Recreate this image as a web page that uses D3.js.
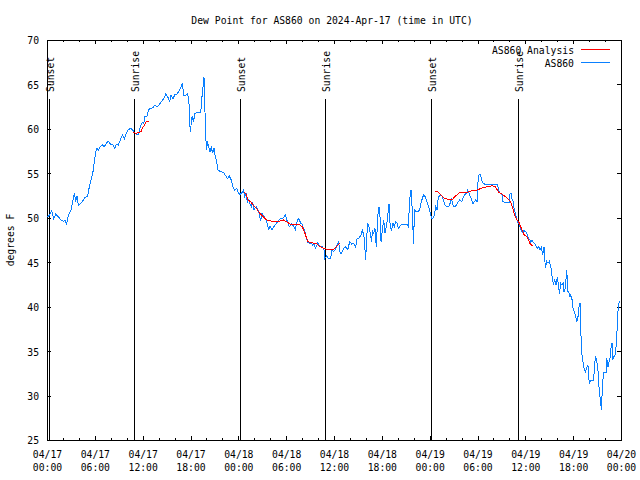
<!DOCTYPE html>
<html><head><meta charset="utf-8">
<script src="https://cdn.jsdelivr.net/npm/d3@7"></script>
<style>
body{margin:0;background:#fff}
text{font-family:"DejaVu Sans Mono",monospace;font-size:11px;fill:#000}
</style>
</head><body>
<svg id="c" width="640" height="480"></svg>
<script>
// ---- DATA (hours after 2024-04-17 00:00 UTC, dew point in F) ----
const obsHours = [0.08,0.33,0.59,0.84,1.09,1.42,1.76,2.05,2.26,2.47,2.68,3.01,3.18,3.43,3.60,3.76,3.93,4.18,4.43,4.77,5.10,5.27,5.52,5.77,5.94,6.10,6.27,6.44,6.69,6.94,7.19,7.44,7.69,7.94,8.28,8.53,8.70,8.95,9.20,9.45,9.70,9.95,10.20,10.45,10.70,10.95,11.21,11.46,11.71,11.96,12.13,12.29,12.54,12.71,12.96,13.30,13.55,13.80,14.05,14.38,14.63,14.89,15.14,15.39,15.55,15.81,16.06,16.31,16.56,16.81,16.98,17.14,17.31,17.65,17.81,17.90,17.98,18.19,18.36,18.57,18.77,19.28,19.44,19.61,19.69,19.78,19.86,20.03,20.11,20.28,20.45,20.61,20.78,20.95,21.11,21.28,21.45,21.70,22.12,22.37,22.62,22.87,23.12,23.29,23.54,23.79,24.04,24.21,24.42,24.63,24.80,24.96,25.13,25.30,25.46,25.63,25.80,25.97,26.22,26.47,26.64,26.80,26.97,27.22,27.47,27.64,27.81,27.97,28.22,28.47,28.72,28.98,29.23,29.48,29.73,29.90,30.06,30.23,30.40,30.65,30.90,31.15,31.32,31.49,31.65,31.82,31.99,32.15,32.32,32.49,32.66,32.91,33.16,33.33,33.49,33.66,33.83,33.99,34.16,34.33,34.58,34.75,34.83,35.08,35.33,35.58,35.75,35.92,36.17,36.34,36.59,36.71,36.88,37.13,37.38,37.55,37.72,37.97,38.22,38.47,38.72,38.89,39.14,39.39,39.55,39.72,39.81,39.97,40.06,40.22,40.39,40.56,40.73,40.81,40.98,41.14,41.23,41.31,41.48,41.65,41.81,41.90,42.06,42.23,42.40,42.57,42.73,42.90,42.98,43.07,43.23,43.40,43.57,43.74,43.90,44.07,44.32,44.57,44.91,45.16,45.33,45.49,45.66,45.83,45.91,45.99,46.08,46.25,46.50,46.75,46.91,47.08,47.25,47.42,47.58,47.75,47.92,48.08,48.25,48.42,48.59,48.75,48.92,49.09,49.26,49.42,49.59,49.76,49.93,50.18,50.43,50.59,50.76,50.84,51.01,51.26,51.51,51.76,52.02,52.27,52.43,52.60,52.77,52.94,53.10,53.27,53.44,53.60,53.77,53.94,54.02,54.19,54.36,54.52,54.69,54.86,55.57,56.49,56.66,56.83,57.08,57.16,57.58,58.00,58.08,58.25,58.33,58.50,58.58,58.75,58.92,59.00,59.17,59.33,59.50,59.67,59.84,60.09,60.25,60.42,60.59,60.67,60.84,61.01,61.17,61.34,61.51,61.68,61.84,62.01,62.18,62.34,62.51,62.68,62.85,63.01,63.18,63.35,63.52,63.68,63.85,64.02,64.18,64.27,64.44,64.60,64.77,64.85,65.02,65.19,65.35,65.52,65.60,65.69,65.86,65.94,66.02,66.19,66.36,66.44,66.61,66.69,66.86,66.94,67.03,67.11,67.19,67.36,67.53,67.70,67.86,67.95,68.03,68.20,68.53,68.62,68.70,68.78,68.95,69.12,69.20,69.29,69.45,69.54,69.70,69.87,70.12,70.20,70.37,70.45,70.62,70.70,70.87,70.96,71.12,71.29,71.38,71.54,71.63,71.71,71.88];
const obsDewF = [50.1,50.3,50.8,49.9,50.4,50.1,49.75,49.6,49.7,49.3,50.3,50.9,51.6,52.8,51.8,52.45,51.4,51.6,51.8,52.3,52.45,53.3,54.25,55.2,56.3,57.4,57.8,57.6,58.0,58.2,58.0,58.4,58.6,58.3,58.2,57.8,58.3,58.2,58.75,59.3,58.9,59.5,59.9,60.05,59.95,59.6,59.4,59.4,60.25,60.7,60.6,61.4,61.4,62.1,62.3,62.4,62.7,62.5,62.7,63.1,63.4,63.9,63.6,63.1,63.8,63.4,63.9,63.9,64.3,64.7,65.2,63.8,63.7,64.0,62.9,60.8,59.7,61.4,60.8,61.75,61.8,61.8,63.6,65.1,65.8,64.0,59.7,57.6,58.6,58.0,57.4,57.9,57.25,57.8,56.9,56.3,55.4,55.2,55.1,54.8,54.4,54.7,54.25,53.5,53.1,53.3,52.75,52.6,52.8,53.1,52.4,52.75,51.7,52.0,51.6,51.25,51.8,50.9,51.25,50.9,50.4,49.6,50.5,50.2,49.75,49.3,48.6,49.1,48.6,49.0,49.3,49.6,49.9,49.9,50.1,50.3,49.8,49.4,49.0,49.3,49.1,48.7,49.4,49.9,49.75,49.4,49.3,48.8,48.6,47.9,47.3,47.1,47.2,46.9,47.1,46.6,46.9,47.2,46.9,46.8,46.7,46.4,45.4,45.7,45.4,45.4,46.4,46.2,46.4,46.8,47.3,46.2,45.9,46.4,46.75,46.6,46.4,47.3,47.05,47.1,46.7,47.6,47.7,48.1,48.6,48.1,47.5,45.25,47.1,49.4,49.0,48.25,47.3,48.6,48.25,48.8,47.5,46.75,50.1,51.25,49.75,47.3,48.6,49.75,48.25,49.0,50.1,51.6,50.1,48.8,48.6,49.4,49.0,49.55,49.4,48.8,49.1,49.3,49.3,49.3,49.0,52.1,53.1,50.7,48.6,47.05,50.9,50.7,50.7,50.9,51.6,52.2,52.6,52.4,52.0,51.6,51.1,50.5,49.9,50.0,50.3,51.25,50.9,52.4,52.45,52.6,52.4,51.9,51.4,51.25,51.3,51.7,52.2,51.6,51.25,51.3,51.7,52.0,51.8,52.4,52.6,52.75,53.1,52.75,52.4,52.0,51.6,51.8,52.0,51.8,53.7,54.8,54.9,54.25,53.9,53.8,53.8,53.8,53.1,52.75,52.6,51.8,51.7,51.7,52.75,52.7,52.1,51.8,51.1,50.5,49.9,49.55,49.4,49.0,48.55,48.4,48.55,48.4,48.1,47.6,47.5,47.3,47.5,47.2,47.1,46.8,46.6,46.75,46.4,46.7,45.8,46.7,44.4,45.1,44.9,45.1,44.6,43.4,42.6,43.0,42.4,43.3,42.3,41.4,42.6,42.4,42.8,41.7,42.1,44.1,41.7,41.5,41.1,41.3,40.8,40.2,39.6,39.4,38.7,38.3,38.9,39.8,40.45,37.4,35.9,34.6,34.0,33.1,32.7,33.1,33.4,32.1,31.4,31.75,31.75,32.5,33.25,34.4,34.0,32.7,31.6,30.25,29.3,28.4,31.6,32.6,32.6,34.2,33.25,33.6,34.2,35.1,35.9,34.0,34.4,34.6,35.5,37.9,39.6,40.4,40.6];
// analysis segments separated by null
const anaHours = [10.79,11.12,11.54,11.79,11.96,12.21,12.46,12.79,null,
  24.71,24.96,25.21,25.55,25.88,26.22,26.55,26.80,27.14,27.47,27.81,28.31,29.06,29.65,30.06,30.48,30.90,31.74,31.99,32.24,32.49,32.74,33.24,33.83,34.24,34.66,35.08,35.92,36.17,36.42,36.71,null,
  48.67,49.09,49.38,49.80,50.22,50.80,51.18,51.72,52.31,52.85,53.48,53.90,54.40,55.16,55.91,56.24,56.62,57.03,57.45,57.87,58.16,58.41,58.66,58.92,59.25,59.54,59.84,60.17,60.59,60.92];
const anaDewF = [59.6,59.5,59.6,59.7,60.1,60.4,60.8,60.9,null,
  52.9,52.7,52.0,51.8,51.4,51.1,50.7,50.4,50.1,49.8,49.7,49.6,49.6,49.75,49.55,49.3,49.2,49.2,49.0,48.55,47.9,47.3,47.2,47.05,46.75,46.6,46.45,46.45,46.6,46.9,47.1,null,
  53.0,52.9,52.6,52.2,52.1,52.0,52.4,52.8,52.9,52.9,53.1,53.1,53.3,53.5,53.6,53.5,52.9,52.7,52.4,52.1,51.8,51.1,50.3,49.8,49.4,48.7,48.1,47.9,47.1,46.8];
const sunHours = [0.21,10.95,24.21,34.91,48.21,59.04];
const sunLabels = ["Sunset","Sunrise","Sunset","Sunrise","Sunset","Sunrise"];
const yTicks = [25,30,35,40,45,50,55,60,65,70];
const xMajorHours = [0,6,12,18,24,30,36,42,48,54,60,66,72];
const xMinorHours = d3.range(0,73,2);
const seriesNames = ["AS860 Analysis","AS860"];
const seriesColors = ["#ff0000","#0a80ff"];
const titleText = "Dew Point for AS860 on 2024-Apr-17 (time in UTC)";
const yTitle = "degrees F";

// ---- CHART ----
const L=47,R=621,T=40,B=440;
const CW=5.86;
const svg=d3.select("#c");
const t0=Date.UTC(2024,3,17);
const toDate=h=>new Date(t0+h*3600000);
const x=d3.scaleUtc().domain([toDate(0),toDate(72)]).range([L,R]);
const y=d3.scaleLinear().domain([25,70]).range([B,T]);
function fit(sel){sel.each(function(){const n=this.textContent.length;this.setAttribute("textLength",(n*CW).toFixed(2));this.setAttribute("lengthAdjust","spacingAndGlyphs");});}

function styleAxis(g){g.select(".domain").remove();g.selectAll("line").attr("stroke","#000").attr("shape-rendering","crispEdges");}

// minor x ticks
svg.append("g").attr("transform",`translate(0,${B})`)
  .call(d3.axisBottom(x).tickValues(xMinorHours.map(toDate)).tickSizeInner(-2).tickSizeOuter(0).tickFormat(""))
  .call(styleAxis);
svg.append("g").attr("transform",`translate(0,${T})`)
  .call(d3.axisTop(x).tickValues(xMinorHours.map(toDate)).tickSizeInner(-2).tickSizeOuter(0).tickFormat(""))
  .call(styleAxis);
// major x ticks
const xb=svg.append("g").attr("transform",`translate(0,${B})`)
  .call(d3.axisBottom(x).tickValues(xMajorHours.map(toDate)).tickSizeInner(-4).tickSizeOuter(0).tickFormat(d3.utcFormat("%m/%d")))
  .call(styleAxis);
xb.selectAll(".tick").each(function(d){
  const g=d3.select(this);
  g.select("text").remove();
  g.append("text").attr("y",18.3).attr("text-anchor","middle").text(d3.utcFormat("%m/%d")(d)).call(fit);
  g.append("text").attr("y",30.7).attr("text-anchor","middle").text(d3.utcFormat("%H:%M")(d)).call(fit);
});
svg.append("g").attr("transform",`translate(0,${T})`)
  .call(d3.axisTop(x).tickValues(xMajorHours.map(toDate)).tickSizeInner(-4).tickSizeOuter(0).tickFormat(""))
  .call(styleAxis);
// y ticks
const yl=svg.append("g").attr("transform",`translate(${L},0)`)
  .call(d3.axisLeft(y).tickValues(yTicks).tickSizeInner(-4).tickSizeOuter(0).tickPadding(8).tickFormat(d3.format("d")))
  .call(styleAxis);
yl.selectAll("text").attr("font-family","DejaVu Sans Mono").attr("font-size",11).attr("fill","#000").attr("dy","0.36em").call(fit);
svg.append("g").attr("transform",`translate(${R},0)`)
  .call(d3.axisRight(y).tickValues(yTicks).tickSizeInner(-4).tickSizeOuter(0).tickFormat(""))
  .call(styleAxis);

// border
svg.append("rect").attr("x",L).attr("y",T).attr("width",R-L).attr("height",B-T)
  .attr("fill","none").attr("stroke","#000").attr("shape-rendering","crispEdges");

// sun event lines
const sun=svg.append("g");
sunHours.forEach((h,i)=>{
  const xx=Math.round(x(toDate(h)))+0.5;
  sun.append("line").attr("x1",xx).attr("x2",xx).attr("y1",99).attr("y2",B).attr("stroke","#000").attr("stroke-width",1);
  sun.append("text").attr("transform",`translate(${xx+4.8},92) rotate(-90)`).attr("text-anchor","start").text(sunLabels[i]).call(fit);
});

// data lines
const obs=obsHours.map((h,i)=>({t:toDate(h),v:obsDewF[i]}));
const ana=anaHours.map((h,i)=>({t:h==null?null:toDate(h),v:anaDewF[i]}));
const line=d3.line().defined(d=>d.t!=null&&d.v!=null).x(d=>x(d.t)).y(d=>y(d.v));
svg.append("path").datum(obs).attr("d",line).attr("fill","none").attr("stroke",seriesColors[1]).attr("stroke-width",1).attr("shape-rendering","crispEdges");
svg.append("path").datum(ana).attr("d",line).attr("fill","none").attr("stroke",seriesColors[0]).attr("stroke-width",1).attr("shape-rendering","crispEdges");

// legend
const legY=[49.5,62.5];
seriesNames.forEach((n,i)=>{
  svg.append("text").attr("x",574).attr("y",legY[i]+4.2).attr("text-anchor","end").text(n).call(fit);
  svg.append("line").attr("x1",581).attr("x2",610).attr("y1",legY[i]).attr("y2",legY[i]).attr("stroke",seriesColors[i]).attr("stroke-width",1).attr("shape-rendering","crispEdges");
});

// titles
svg.append("text").attr("x",332).attr("y",24).attr("text-anchor","middle").text(titleText).call(fit);
svg.append("text").attr("transform","translate(14,240) rotate(-90)").attr("text-anchor","middle").text(yTitle).call(fit);
</script>
</body></html>
